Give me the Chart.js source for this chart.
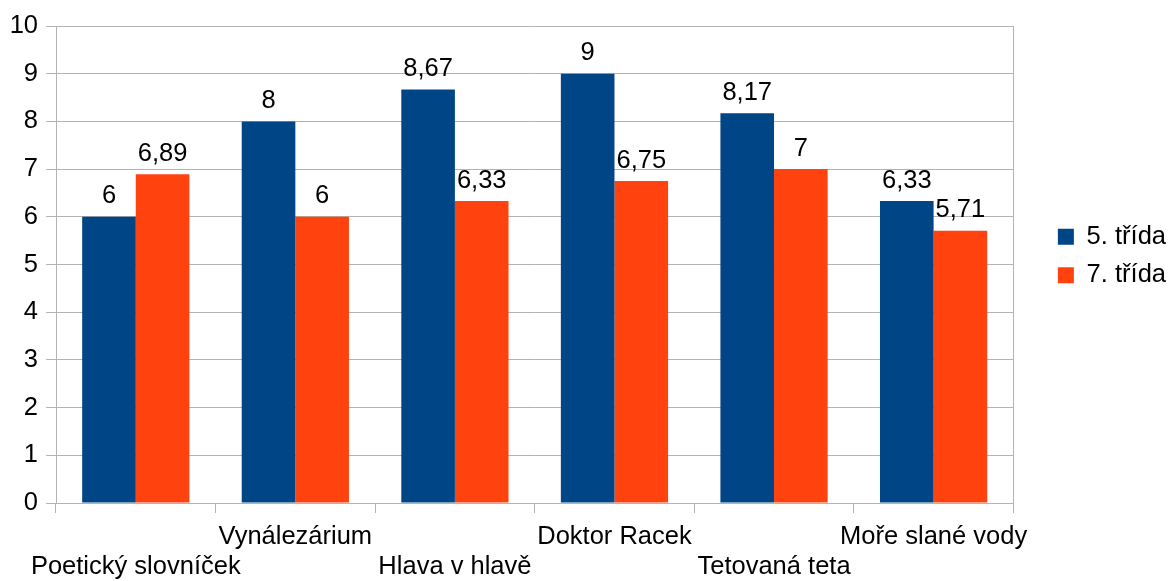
<!DOCTYPE html>
<html>
<head>
<meta charset="utf-8">
<script src="https://cdn.jsdelivr.net/npm/chart.js@4/dist/chart.umd.min.js"></script>
<style>
  html, body { margin: 0; padding: 0; background: #fff; }
  #wrap { width: 1176px; height: 581px; }
</style>
</head>
<body>
<div id="wrap"><canvas id="c" width="1176" height="581"></canvas></div>
<script>
// Book titles (categories) and average scores per class
const categories = ['Poetický slovníček', 'Vynálezárium', 'Hlava v hlavě', 'Doktor Racek', 'Tetovaná teta', 'Moře slané vody'];
const seriesNames = ['5. třída', '7. třída'];
const grade5 = [6, 8, 8.67, 9, 8.17, 6.33];
const grade7 = [6.89, 6, 6.33, 6.75, 7, 5.71];
const yTicks = [0, 1, 2, 3, 4, 5, 6, 7, 8, 9, 10];

const FONT = "'Liberation Sans', Arial, sans-serif";
const FSIZE = 25.5;
const GRID = '#b3b3b3';

// Value labels above each bar, written with a decimal comma
const valueLabels = {
  id: 'valueLabels',
  afterDatasetsDraw(chart) {
    const ctx = chart.ctx;
    ctx.save();
    ctx.font = FSIZE + 'px ' + FONT;
    ctx.fillStyle = '#000';
    ctx.textAlign = 'center';
    ctx.textBaseline = 'alphabetic';
    chart.data.datasets.forEach((ds, di) => {
      const meta = chart.getDatasetMeta(di);
      meta.data.forEach((bar, i) => {
        const txt = String(ds.data[i]).replace('.', ',');
        ctx.fillText(txt, bar.x, bar.y - 13.5);
      });
    });
    ctx.restore();
  }
};

// Nudge the legend block up a little beside the plot
const legendShift = {
  id: 'legendShift',
  afterLayout(chart) {
    const lg = chart.legend;
    if (lg) { lg.top -= 8.5; lg.bottom -= 8.5; }
  }
};

new Chart(document.getElementById('c'), {
  type: 'bar',
  data: {
    labels: categories,
    datasets: [
      { label: seriesNames[0], data: grade5, backgroundColor: '#004586', borderWidth: 0 },
      { label: seriesNames[1], data: grade7, backgroundColor: '#ff420e', borderWidth: 0 }
    ]
  },
  options: {
    responsive: false,
    animation: false,
    devicePixelRatio: 1,
    layout: { padding: { left: 10, top: 26, right: 0, bottom: 0 } },
    datasets: { bar: { categoryPercentage: 0.672, barPercentage: 1.0 } },
    plugins: {
      tooltip: { enabled: false },
      legend: {
        position: 'right',
        align: 'center',
        fullSize: false,
        labels: {
          boxWidth: 16,
          boxHeight: 16,
          padding: 13,
          color: '#000',
          font: { family: FONT, size: FSIZE }
        }
      }
    },
    scales: {
      x: {
        offset: true,
        grid: {
          offset: true,
          color: 'rgba(0,0,0,0)',
          tickColor: GRID,
          tickLength: 10,
          lineWidth: 1
        },
        border: { display: true, color: GRID, width: 1 },
        ticks: {
          autoSkip: false,
          maxRotation: 0,
          minRotation: 0,
          padding: 9,
          color: '#000',
          font: { family: FONT, size: FSIZE, lineHeight: 30 / FSIZE },
          callback(value, index) {
            const name = categories[index];
            return index % 2 === 0 ? ['', name] : [name];
          }
        },
        afterFit(scale) {
          scale.height = 78;
          scale.paddingLeft = 0;
          scale.paddingRight = 0;
        }
      },
      y: {
        min: yTicks[0],
        max: yTicks[yTicks.length - 1],
        afterBuildTicks(scale) { scale.ticks = yTicks.map(v => ({ value: v })); },
        grid: { color: GRID, tickColor: GRID, tickLength: 10, lineWidth: 1 },
        border: { display: true, color: GRID, width: 1 },
        ticks: {
          padding: 8,
          color: '#000',
          font: { family: FONT, size: FSIZE, lineHeight: 30 / FSIZE }
        },
        afterFit(scale) { scale.width = 46; }
      },
      yRight: {
        position: 'right',
        display: true,
        grid: { drawOnChartArea: false, drawTicks: false },
        border: { display: true, color: GRID, width: 1 },
        ticks: { display: false },
        afterFit(scale) { scale.width = 31.5; }
      }
    }
  },
  plugins: [valueLabels, legendShift]
});
</script>
</body>
</html>
